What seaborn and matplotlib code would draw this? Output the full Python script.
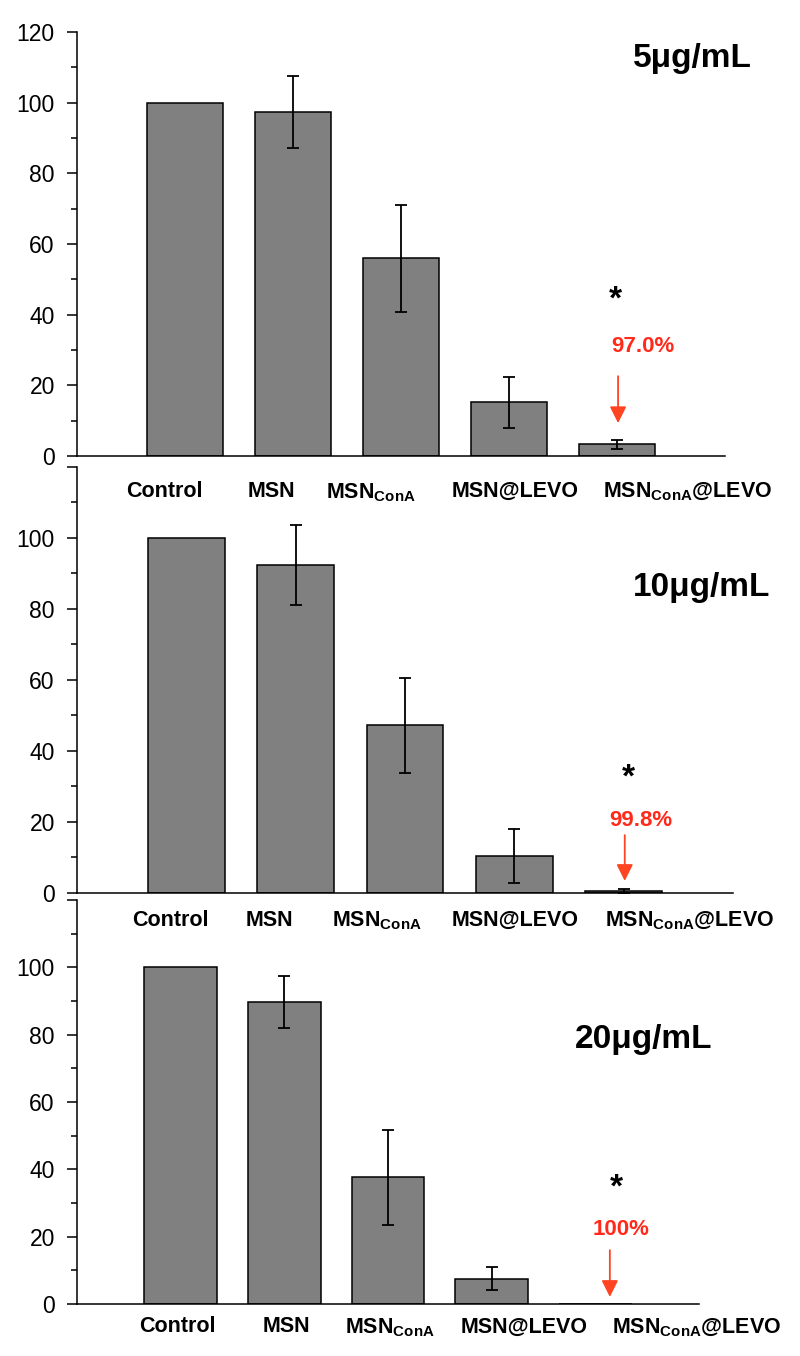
import numpy as np
import pandas as pd
import matplotlib
matplotlib.use("Agg")
import matplotlib.pyplot as plt
import seaborn as sns
from matplotlib.ticker import MultipleLocator

# --- data ---
categories = ["Control", "MSN", "MSN_ConA", "MSN@LEVO", "MSN_ConA@LEVO"]
tick_labels = ["Control", "MSN", r"MSN$_{\mathbf{ConA}}$", "MSN@LEVO",
               r"MSN$_{\mathbf{ConA}}$@LEVO"]
doses = ["5μg/mL", "10μg/mL", "20μg/mL"]

viability_5 = [100, 97.4, 55.9, 15.2, 3.3]
err_5 = [0, 10.2, 15.0, 7.3, 1.3]
viability_10 = [100, 92.5, 47.3, 10.3, 0.6]
err_10 = [0, 11.3, 13.4, 7.6, 0.5]
viability_20 = [100, 89.7, 37.6, 7.5, 0.0]
err_20 = [0, 7.6, 14.2, 3.4, 0.0]
inhibition = ["97.0%", "99.8%", "100%"]

values = [viability_5, viability_10, viability_20]
errors = [err_5, err_10, err_20]

# --- layout (figure fractions / data-space positions of annotations) ---
rects = [
    [0.09625, 0.6637, 0.810, 0.3127],
    [0.09625, 0.34145, 0.820, 0.31416],
    [0.09625, 0.03835, 0.7775, 0.2979],
]
label_pos = [
    [-0.19, 0.80, 1.72, 3.06, 4.65],
    [-0.15, 0.76, 1.74, 3.01, 4.60],
    [-0.03, 1.02, 2.02, 3.31, 4.98],
]
label_pad = [18, 12, 9]
title_xy = [(4.70, 112.5), (4.71, 86.0), (4.47, 78.5)]
star_xy = [(3.99, 44.2), (4.04, 32.4), (4.20, 34.5)]
pct_xy = [(4.24, 30.9), (4.16, 20.3), (4.25, 22.0)]
arrow_x = [4.01, 4.01, 4.14]
arrow_y = [(22.6, 9.3), (16.3, 3.4), (16.0, 2.1)]
show_top_label = [True, False, False]

sns.set_style("ticks")
plt.rcParams["font.family"] = ["Liberation Sans", "DejaVu Sans"]
plt.rcParams["mathtext.fontset"] = "custom"
plt.rcParams["mathtext.rm"] = "Liberation Sans"
plt.rcParams["mathtext.bf"] = "Liberation Sans:bold"
plt.rcParams["text.color"] = "black"
plt.rcParams["xtick.color"] = "black"
plt.rcParams["ytick.color"] = "black"
plt.rcParams["axes.edgecolor"] = "black"

fig = plt.figure(figsize=(8, 13.56), dpi=100)
fig.patch.set_facecolor("white")

red = "#ff2a1a"

for i in range(3):
    ax = fig.add_axes(rects[i])
    ax.set_facecolor("none")
    df = pd.DataFrame({"group": categories, "viability": values[i]})
    sns.barplot(data=df, x="group", y="viability", order=categories,
                color="#808080", saturation=1, edgecolor="black",
                linewidth=1.1, width=0.7, ax=ax)

    err = np.array(errors[i])
    idx = np.arange(len(categories))
    mask = err > 0
    ax.errorbar(idx[mask], np.array(values[i])[mask], yerr=err[mask],
                fmt="none", ecolor="black", elinewidth=1.3,
                capsize=4, capthick=1.3)

    ax.set_xlim(-1, 5)
    ax.set_ylim(0, 120)
    ax.yaxis.set_major_locator(MultipleLocator(20))
    ax.yaxis.set_minor_locator(MultipleLocator(10))
    ax.set_yticks([0, 20, 40, 60, 80, 100, 120])
    ylabels = ["0", "20", "40", "60", "80", "100", "120" if show_top_label[i] else ""]
    ax.set_yticklabels(ylabels, fontsize=16.5, color="black")
    ax.tick_params(axis="y", which="major", direction="out", length=7,
                   width=1.1, pad=9, colors="black")
    ax.tick_params(axis="y", which="minor", direction="out", length=4,
                   width=1.1, colors="black")

    ax.set_xticks(label_pos[i])
    ax.set_xticklabels(tick_labels, fontsize=15.5, fontweight="bold",
                       color="black")
    ax.tick_params(axis="x", length=0, pad=label_pad[i])

    ax.set_xlabel("")
    ax.set_ylabel("")
    for s in ["top", "right"]:
        ax.spines[s].set_visible(False)
    for s in ["left", "bottom"]:
        ax.spines[s].set_linewidth(1.1)
        ax.spines[s].set_color("black")

    ax.text(*title_xy[i], doses[i], fontsize=24, fontweight="bold",
            ha="center", va="center", color="black")
    ax.text(*star_xy[i], "*", fontsize=24, fontweight="bold", ha="center",
            va="center", color="black")
    ax.text(*pct_xy[i], inhibition[i], fontsize=16, fontweight="bold",
            ha="center", va="center", color=red)
    ax.annotate("", xy=(arrow_x[i], arrow_y[i][1]),
                xytext=(arrow_x[i], arrow_y[i][0]),
                arrowprops=dict(arrowstyle="-|>,head_length=0.5,head_width=0.25",
                                color="#ff4422", lw=1.3, mutation_scale=20,
                                shrinkA=0, shrinkB=0))

fig.savefig("out.png", dpi=100, facecolor="white")
